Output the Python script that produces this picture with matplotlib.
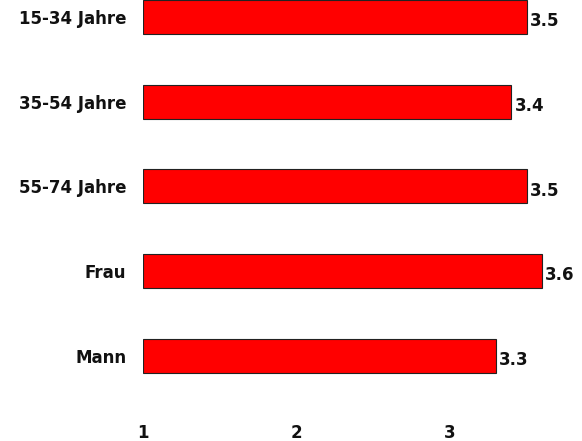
import numpy as np
import matplotlib.pyplot as plt

plt.rcParams['font.family'] = ['DejaVu Sans']

# Daten (von oben nach unten)
categories = ["15-34 Jahre", "35-54 Jahre", "55-74 Jahre", "Frau", "Mann"]
values = [3.5, 3.4, 3.5, 3.6, 3.3]
x_ticks = [1, 2, 3]

fig = plt.figure(figsize=(5.82, 4.41), dpi=100, facecolor='white')
ax = fig.add_axes([143 / 582, 1 - 405 / 441, 2.7 * 153.5 / 582, 405 / 441])

pos = np.arange(len(categories))
base = 1
ax.barh(pos, np.array(values) - base, left=base, height=0.4,
        color='#ff0000', edgecolor='#222222', linewidth=0.8)

for p, v in zip(pos, values):
    ax.text(v + 0.02, p + 0.05, f"{v:.1f}", va='center', ha='left',
            fontsize=12, fontweight='bold', color='#111111')

ax.set_xlim(1, 3.7)
ax.set_ylim(4.58, -0.2)
ax.set_yticks(pos)
ax.set_yticklabels(categories, fontsize=12, fontweight='bold', color='#111111')
ax.set_xticks(x_ticks)
ax.set_xticklabels([str(t) for t in x_ticks], fontsize=12, fontweight='bold', color='#111111')
ax.tick_params(axis='y', length=0, pad=12)
ax.tick_params(axis='x', length=0, pad=14)
for s in ax.spines.values():
    s.set_visible(False)

fig.savefig("out.png", dpi=100)
